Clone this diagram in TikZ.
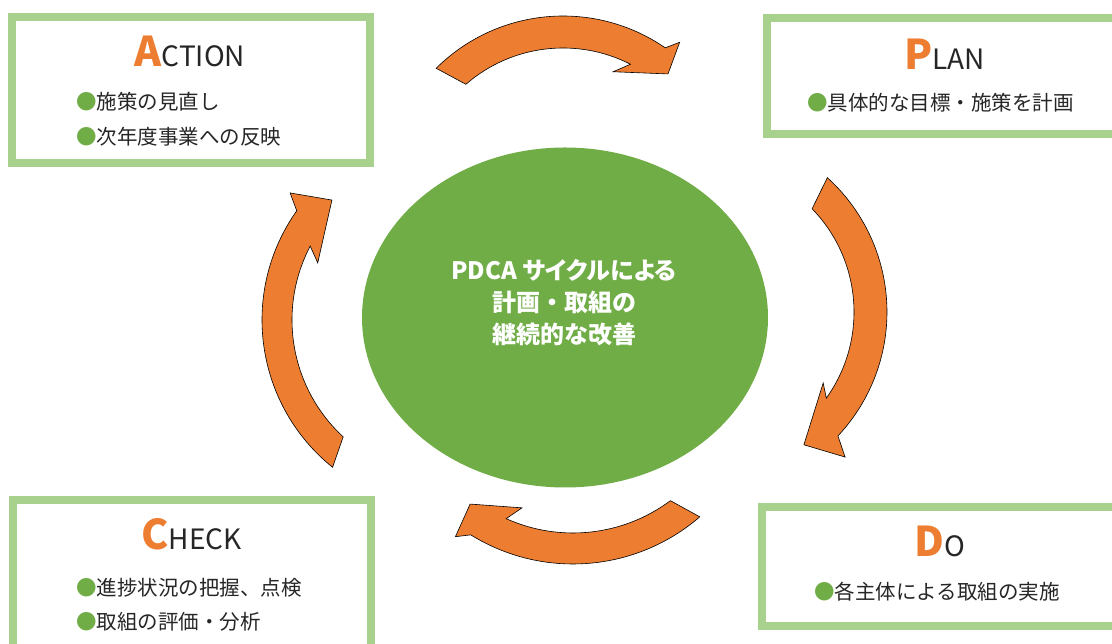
\documentclass[tikz,border=0pt]{standalone}
\usepackage{fontspec}
\setmainfont{Noto Sans CJK JP}
\newfontfamily\jppalt{Noto Sans CJK JP}[RawFeature=+palt]
\usetikzlibrary{shapes.geometric}

\definecolor{pdcaorange}{HTML}{ED7D31}
\definecolor{pdcagreen}{HTML}{70AD47}
\definecolor{panelgreen}{HTML}{A9D18E}
\definecolor{inkgray}{HTML}{262626}

\newcommand{\headword}[2]{{\fontsize{41}{41}\selectfont\bfseries\color{pdcaorange}#1}{\fontsize{28}{28}\selectfont #2}}
\newcommand{\dotitem}{{\color{pdcagreen}●}}

\begin{document}
\begin{tikzpicture}[x=1pt,y=1pt,
    panel/.style={rectangle,draw=panelgreen,line width=8pt,fill=white,inner sep=0pt},
    head word/.style={anchor=base,inner sep=0pt,text=inkgray},
    bullet line/.style={anchor=west,inner sep=0pt,text=inkgray,
      font=\fontsize{20.5}{24}\selectfont},
    hub text/.style={align=center,text=white,inner sep=0pt,
      font=\fontsize{24}{32}\selectfont\bfseries},
    turn arrow/.style={fill=pdcaorange,draw=black,line width=0.6pt,line join=miter}]
  \useasboundingbox (0,0) rectangle (1112,644);

  % four panels
  \node[panel,minimum width=357.5pt,minimum height=146.3pt] (action) at (190.75,554.15) {};
  \node[panel,minimum width=358pt,minimum height=116pt] (plan) at (946,568) {};
  \node[panel,minimum width=358.5pt,minimum height=160pt] (check) at (191.75,64) {};
  \node[panel,minimum width=363pt,minimum height=119pt] (do) at (943.5,77.5) {};

  \node[head word] (action title) at (190,577) {\headword{A}{CTION}};
  \node[bullet line] (action one) at (76,542) {\dotitem 施策の見直し};
  \node[bullet line] (action two) at (76,507) {\dotitem 次年度事業への反映};

  \node[head word] (plan title) at (944.5,574) {\headword{P}{LAN}};
  \node[bullet line] (plan one) at (807,541) {\dotitem 具体的な目標・施策を計画};

  \node[head word] (check title) at (191.5,94) {\headword{C}{HECK}};
  \node[bullet line] (check one) at (76,56) {\dotitem 進捗状況の把握、点検};
  \node[bullet line] (check two) at (76,22) {\dotitem 取組の評価・分析};

  \node[head word] (do title) at (940,87) {\headword{D}{O}};
  \node[bullet line] (do one) at (814,52) {\dotitem 各主体による取組の実施};

  % centre
  \node[ellipse,fill=pdcagreen,minimum width=406pt,minimum height=340pt] (hub) at (565,326.5) {};
  \node[hub text] (hub label) at (564,341)
    {{\jppalt PDCA サイクルによる}\\計画・取組の\\継続的な改善};

  % curved arrows round the hub
  \coordinate (top c) at (563,448);
  \coordinate (right c) at (706,332);
  \coordinate (bottom c) at (573,274);
  \coordinate (left c) at (451,324);

  \draw[turn arrow,shift={(top c)}] (134.8:180pt)
    arc[start angle=134.8,end angle=55.4,radius=180pt]
    -- (52.8:193pt) -- (49.3:161pt) -- (68:134pt) -- (62.9:148pt)
    arc[start angle=62.9,end angle=131,radius=148pt] -- cycle;
  \draw[turn arrow,shift={(right c)}] (47.9:181pt)
    arc[start angle=47.9,end angle=-43.2,radius=181pt]
    -- (-46.2:201pt) -- (-53.6:165pt) -- (-31.2:137pt) -- (-35.6:148pt)
    arc[start angle=-35.6,end angle=44.2,radius=148pt] -- cycle;
  \draw[turn arrow,shift={(bottom c)}] (-49.2:194pt)
    arc[start angle=-49.2,end angle=-121.8,radius=194pt]
    -- (-125.2:204pt) -- (-127.5:169pt) -- (-110.3:147pt) -- (-114.2:163pt)
    arc[start angle=-114.2,end angle=-53.3,radius=163pt] -- cycle;
  \draw[turn arrow,shift={(left c)}] (231.2:189pt)
    arc[start angle=231.2,end angle=144.7,radius=189pt]
    -- (141.7:205pt) -- (134.8:169pt) -- (156.8:145pt) -- (152.3:159pt)
    arc[start angle=152.3,end angle=227.3,radius=159pt] -- cycle;
\end{tikzpicture}
\end{document}
